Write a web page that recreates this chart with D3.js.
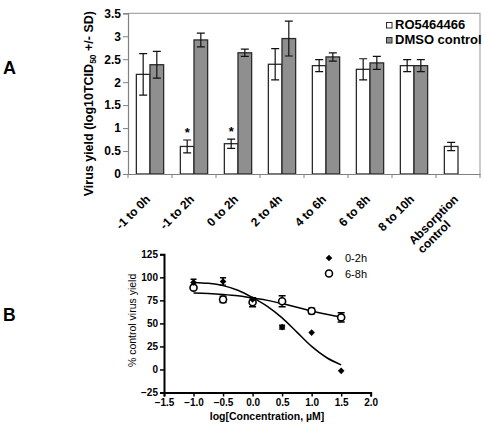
<!DOCTYPE html>
<html><head><meta charset="utf-8">
<script src="https://cdn.jsdelivr.net/npm/d3@7"></script>
<style>
body{margin:0;background:#fff;}
svg{display:block;font-family:"Liberation Sans",Arial,sans-serif;}
</style></head>
<body><svg id="c" width="484" height="426"></svg>
<script>
// ---------- Panel A data ----------
const categories = ["-1 to 0h","-1 to 2h","0 to 2h","2 to 4h","4 to 6h","6 to 8h","8 to 10h","Absorption\ncontrol"];
const seriesNames = ["RO5464466","DMSO control"];
const roValues   = [2.17, 0.60, 0.66, 2.39, 2.36, 2.28, 2.36, 0.60];
const roErrors   = [0.45, 0.14, 0.10, 0.34, 0.13, 0.23, 0.13, 0.09];
const dmsoValues = [2.38, 2.92, 2.64, 2.95, 2.55, 2.42, 2.36, null];
const dmsoErrors = [0.29, 0.15, 0.08, 0.38, 0.09, 0.14, 0.13, null];
const significant = [false, true, true, false, false, false, false, false];
const yTicksA = [0, 0.5, 1, 1.5, 2, 2.5, 3, 3.5];

// ---------- Panel B data ----------
const concLog = [-1.0, -0.5, 0.0, 0.5, 1.0, 1.5];
const y02 = [94.5, 95.5, 76, 46, 40, -1.5];
const e02 = [3.5, 4, 2, 2, 1, 1];
const y68 = [88.8, 76, 73, 74, 63.5, 56.5];
const e68 = [0, 3.5, 5, 6, 3, 5];
const fitX = [-1.0, -0.75, -0.5, -0.25, 0.0, 0.25, 0.5, 0.75, 1.0, 1.25, 1.5];
const fit02 = [94.5, 93.5, 91, 86, 78, 68.5, 56, 40.5, 25, 13, 5];
const fit68 = [83, 82.5, 81.5, 80, 77.5, 75, 71.5, 67.5, 63.5, 60, 57];
const xTicksB = [-1.5, -1.0, -0.5, 0.0, 0.5, 1.0, 1.5, 2.0];
const yTicksB = [-25, 0, 25, 50, 75, 100, 125];

const svg = d3.select("#c");

// ================= Panel A =================
const A = {l:128, r:480, t:13.3, b:174};
const gA = svg.append("g");
const x0 = d3.scaleBand().domain(categories).range([A.l, A.r]).padding(0);
const bw = x0.bandwidth();
const x1 = d3.scaleBand().domain(seriesNames).range([bw*0.19, bw*0.81]).padding(0);
const yA = d3.scaleLinear().domain([0, 3.5]).range([A.b, A.t]);

// plot border (top/right)
gA.append("path").attr("d", `M${A.l},${A.t}H${A.r}V${A.b}`)
  .attr("fill","none").attr("stroke","#a8a8a8").attr("stroke-width",1.2);

const rows = categories.map((c,i)=>({c, i}));
const barData = [];
rows.forEach(r=>{
  barData.push({c:r.c, s:seriesNames[0], v:roValues[r.i], e:roErrors[r.i], fill:"#ffffff"});
  if (dmsoValues[r.i] != null) barData.push({c:r.c, s:seriesNames[1], v:dmsoValues[r.i], e:dmsoErrors[r.i], fill:"#8f8f8f"});
});
gA.selectAll("rect.bar").data(barData).join("rect").attr("class","bar")
  .attr("x", d=>x0(d.c)+x1(d.s)).attr("width", x1.bandwidth())
  .attr("y", d=>yA(d.v)).attr("height", d=>yA(0)-yA(d.v))
  .attr("fill", d=>d.fill).attr("stroke","#2a2a2a").attr("stroke-width",1.3);

// error bars
const eg = gA.selectAll("g.err").data(barData).join("g").attr("class","err")
  .attr("stroke","#111").attr("stroke-width",1.2).attr("fill","none");
eg.append("path").attr("d", d=>{
  const cx = x0(d.c)+x1(d.s)+x1.bandwidth()/2, w=4;
  const t = yA(d.v+d.e), b = yA(d.v-d.e);
  return `M${cx},${t}V${b}M${cx-w},${t}H${cx+w}M${cx-w},${b}H${cx+w}`;
});

// asterisks
gA.selectAll("text.star").data(rows.filter(r=>significant[r.i])).join("text").attr("class","star")
  .attr("x", r=>x0(r.c)+x1(seriesNames[0])+x1.bandwidth()/2)
  .attr("y", r=>yA(roValues[r.i]+roErrors[r.i])-3)
  .attr("text-anchor","middle").attr("font-size",13).attr("font-weight","bold").text("*");

// y axis
const yAxA = gA.append("g").attr("transform",`translate(${A.l},0)`)
  .call(d3.axisLeft(yA).tickValues(yTicksA).tickFormat(d3.format("")).tickSize(5).tickPadding(2));
yAxA.select(".domain").attr("stroke","#808080").attr("stroke-width",1.2);
yAxA.selectAll(".tick line").attr("stroke","#808080");
yAxA.selectAll("text").attr("font-size",12).attr("font-weight","bold").attr("fill","#000")
  .attr("font-family","Liberation Sans, Arial, sans-serif");

// x axis
const xAxA = gA.append("g").attr("transform",`translate(0,${A.b})`)
  .call(d3.axisBottom(x0).tickSize(0).tickFormat(""));
xAxA.select(".domain").attr("stroke","#808080").attr("stroke-width",1.2);
gA.selectAll("line.xt").data(d3.range(categories.length+1)).join("line").attr("class","xt")
  .attr("x1", i=>A.l+i*bw).attr("x2", i=>A.l+i*bw).attr("y1",A.b).attr("y2",A.b+4)
  .attr("stroke","#808080").attr("stroke-width",1);

// rotated category labels
rows.forEach(r=>{
  const lines = r.c.split("\n");
  const cx = x0(r.c)+bw/2 + 1;
  const t = gA.append("text").attr("transform",`translate(${cx},${A.b+26}) rotate(-45)`)
    .attr("font-size",12).attr("font-weight","bold");
  const t1 = t.append("tspan").attr("x",0).attr("y",0).attr("text-anchor","end").text(lines[0]);
  if (lines.length>1){
    const w = t1.node().getComputedTextLength();
    t.append("tspan").attr("x",-w).attr("y",12.5).attr("text-anchor","start").text(lines[1]);
  }
});

// y title A
const yt = gA.append("text").attr("transform",`translate(93,${(A.t+A.b)/2+10}) rotate(-90)`)
  .attr("text-anchor","middle").attr("font-size",12.5).attr("font-weight","bold");
yt.append("tspan").text("Virus yield (log10TCID");
yt.append("tspan").attr("font-size",8.5).attr("dy",3).text("50");
yt.append("tspan").attr("dy",-3).text(" +/- SD)");

// legend A
const legA = gA.append("g");
seriesNames.forEach((s,i)=>{
  const y = 22.5 + i*15;
  legA.append("rect").attr("x",386.5).attr("y",y).attr("width",5.5).attr("height",5.5)
    .attr("fill", i===0?"#fff":"#8f8f8f").attr("stroke","#2a2a2a").attr("stroke-width",1);
  legA.append("text").attr("x",395).attr("y",y+6).attr("font-size",13).attr("font-weight","bold").text(s);
});

// panel letter
svg.append("text").attr("x",3).attr("y",73.5).attr("font-size",18).attr("font-weight","bold").text("A");
svg.append("text").attr("x",3).attr("y",320.5).attr("font-size",17.5).attr("font-weight","bold").text("B");

// ================= Panel B =================
const B = {l:164, r:370.7, t:254.3, b:392.5};
const gB = svg.append("g");
const xB = d3.scaleLinear().domain([-1.5, 2.0]).range([B.l, B.r]);
const yB = d3.scaleLinear().domain([-25, 125]).range([B.b, B.t]);

const xAxB = gB.append("g").attr("transform",`translate(0,${B.b})`)
  .call(d3.axisBottom(xB).tickValues(xTicksB).tickFormat(d3.format(".1f")).tickSize(4).tickPadding(2));
const yAxB = gB.append("g").attr("transform",`translate(${B.l},0)`)
  .call(d3.axisLeft(yB).tickValues(yTicksB).tickFormat(d3.format("d")).tickSize(4).tickPadding(2));
[xAxB,yAxB].forEach(ax=>{
  ax.select(".domain").attr("stroke","#000").attr("stroke-width",2);
  ax.selectAll(".tick line").attr("stroke","#000").attr("stroke-width",1.5);
  ax.selectAll("text").attr("font-size",10).attr("font-weight","bold").attr("fill","#000")
    .attr("font-family","Liberation Sans, Arial, sans-serif");
});

const line = d3.line().x(d=>xB(d[0])).y(d=>yB(d[1])).curve(d3.curveMonotoneX);
gB.append("path").attr("d", line(fitX.map((x,i)=>[x,fit02[i]]))).attr("fill","none").attr("stroke","#000").attr("stroke-width",1.5);
gB.append("path").attr("d", line(fitX.map((x,i)=>[x,fit68[i]]))).attr("fill","none").attr("stroke","#000").attr("stroke-width",1.5);

function errBars(vals, errs, w){
  gB.append("g").selectAll("path").data(concLog.map((x,i)=>({x, v:vals[i], e:errs[i]})).filter(d=>d.e>1.5))
    .join("path").attr("fill","none").attr("stroke","#000").attr("stroke-width",1.4)
    .attr("d", d=>{
      const cx = xB(d.x), t=yB(d.v+d.e), b=yB(d.v-d.e);
      return `M${cx},${t}V${b}M${cx-w},${t}H${cx+w}M${cx-w},${b}H${cx+w}`;
    });
}
errBars(y68, e68, 3.5);
errBars(y02, e02, 3);

const diamond = d3.symbol().type(d3.symbolSquare).size(22);
gB.append("g").selectAll("circle").data(concLog.map((x,i)=>({x, v:y68[i]}))).join("circle")
  .attr("cx", d=>xB(d.x)).attr("cy", d=>yB(d.v)).attr("r",3.5)
  .attr("fill","#fff").attr("stroke","#000").attr("stroke-width",1.6);
gB.append("g").selectAll("path").data(concLog.map((x,i)=>({x, v:y02[i]}))).join("path")
  .attr("d", diamond).attr("transform", d=>`translate(${xB(d.x)},${yB(d.v)}) rotate(45)`).attr("fill","#000");

// legend B
gB.append("path").attr("d", diamond).attr("transform","translate(329,258) rotate(45)").attr("fill","#000");
gB.append("text").attr("x",345).attr("y",262).attr("font-size",11).text("0-2h");
gB.append("circle").attr("cx",329).attr("cy",273.5).attr("r",3.5).attr("fill","#fff").attr("stroke","#000").attr("stroke-width",1.6);
gB.append("text").attr("x",345).attr("y",277.5).attr("font-size",11).text("6-8h");

// axis titles B
gB.append("text").attr("transform",`translate(136,${(B.t+B.b)/2-3}) rotate(-90)`)
  .attr("text-anchor","middle").attr("font-size",10.5).text("% control virus yield");
gB.append("text").attr("x",267).attr("y",420).attr("text-anchor","middle").attr("font-size",10.5)
  .attr("font-weight","bold").text("log[Concentration, µM]");
</script></body></html>
